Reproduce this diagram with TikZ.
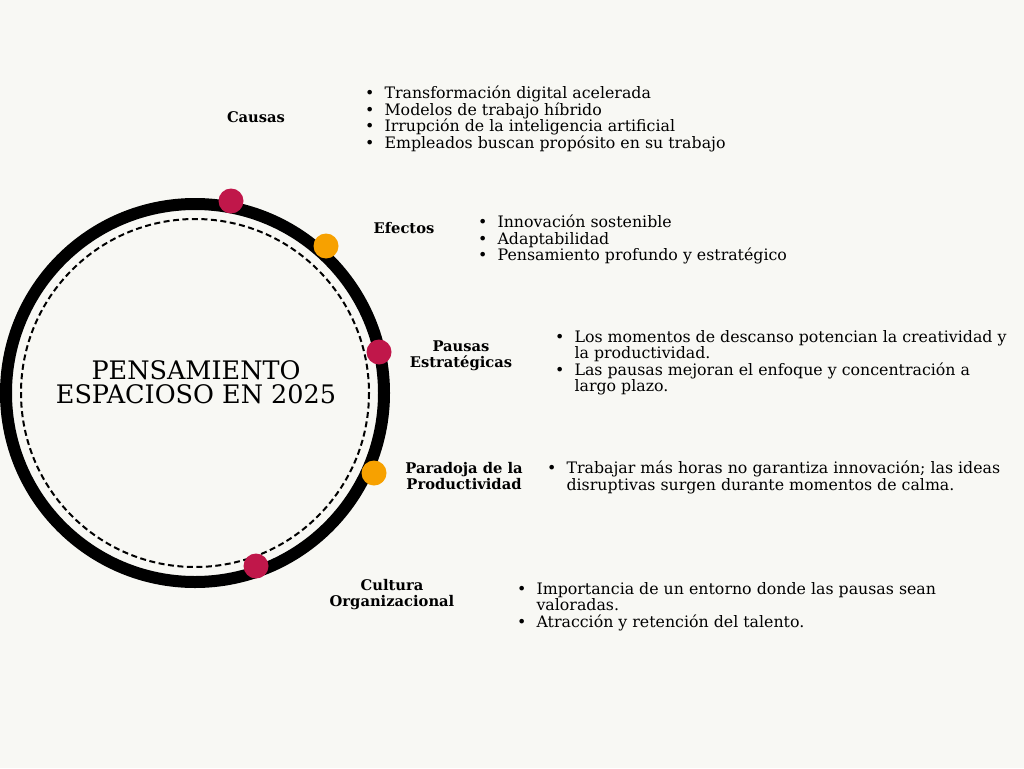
\documentclass[tikz,border=0pt]{standalone}
\usepackage{fontspec}
\setmainfont{DejaVu Serif}
\definecolor{bg}{HTML}{F8F8F4}
\definecolor{crim}{HTML}{C0174A}
\definecolor{oran}{HTML}{F7A100}
\begin{document}
\begin{tikzpicture}[x=1pt,y=-1pt,
  lab/.style={font=\fontsize{14.7}{16}\selectfont\bfseries,align=center,inner sep=0},
  lst/.style={font=\fontsize{15.8}{16.5}\selectfont,align=left,anchor=north west,inner sep=0},
  dot/.style={circle,fill=#1,minimum size=25,inner sep=0}]
\fill[bg] (0,0) rectangle (1024,768);
\useasboundingbox (0,0) rectangle (1024,768);
\coordinate (c) at (195,393);
\draw[line width=12] (c) circle (189);
\draw[line width=2,dash pattern=on 6 off 3.5] (c) circle (174);
\node[font=\fontsize{25.5}{24}\selectfont,align=center] (t) at (196,382) {PENSAMIENTO\\ESPACIOSO EN 2025};
\node[dot=crim] (d1) at (231,201) {};
\node[dot=oran] (d2) at (326,246) {};
\node[dot=crim] (d3) at (379,352) {};
\node[dot=oran] (d4) at (374,473) {};
\node[dot=crim] (d5) at (256,566) {};
\node[lab] (l1) at (256,117) {Causas};
\node[lab] (l2) at (404,228) {Efectos};
\node[lab] (l3) at (461,356) {Pausas\\Estratégicas};
\node[lab] (l4) at (464,476) {Paradoja de la\\Productividad};
\node[lab] (l5) at (392,595) {Cultura\\Organizacional};
\node[lst] (b1) at (365,86) {\textbullet\ \ Transformación digital acelerada\\\textbullet\ \ Modelos de trabajo híbrido\\\textbullet\ \ Irrupción de la inteligencia artificial\\\textbullet\ \ Empleados buscan propósito en su trabajo};
\node[lst] (b2) at (478,215) {\textbullet\ \ Innovación sostenible\\\textbullet\ \ Adaptabilidad\\\textbullet\ \ Pensamiento profundo y estratégico};
\node[lst] (b3) at (555,330) {\textbullet\ \ Los momentos de descanso potencian la creatividad y\\\phantom{\textbullet\ \ }la productividad.\\\textbullet\ \ Las pausas mejoran el enfoque y concentración a\\\phantom{\textbullet\ \ }largo plazo.};
\node[lst] (b4) at (547,461) {\textbullet\ \ Trabajar más horas no garantiza innovación; las ideas\\\phantom{\textbullet\ \ }disruptivas surgen durante momentos de calma.};
\node[lst] (b5) at (517,582) {\textbullet\ \ Importancia de un entorno donde las pausas sean\\\phantom{\textbullet\ \ }valoradas.\\\textbullet\ \ Atracción y retención del talento.};
\end{tikzpicture}
\end{document}
